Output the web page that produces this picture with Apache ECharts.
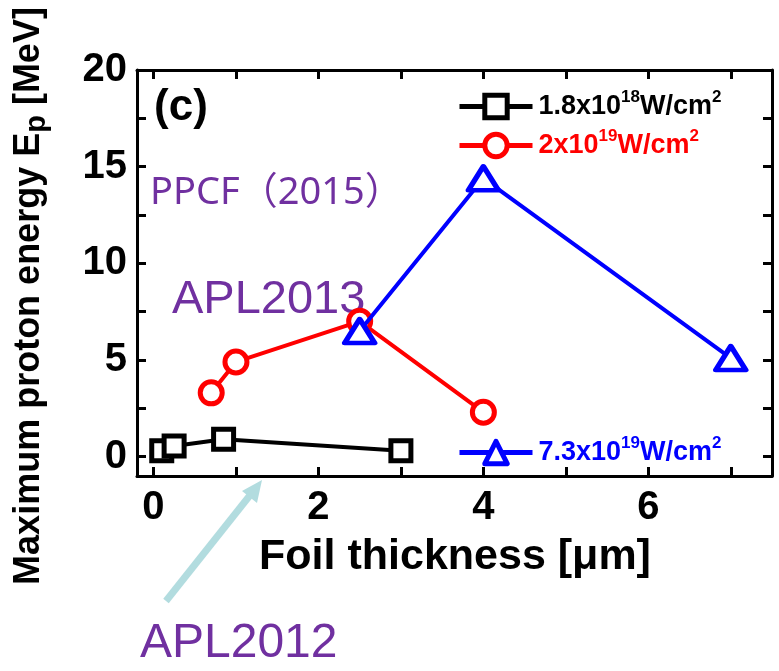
<!DOCTYPE html>
<html>
<head>
<meta charset="utf-8">
<script src="https://cdn.jsdelivr.net/npm/echarts@6/dist/echarts.min.js"></script>
<style>
html,body{margin:0;padding:0;background:#fff;}
#chart{width:779px;height:671px;}
</style>
</head>
<body>
<div id="chart"></div>
<script>
// ---- data ----
const seriesNames = ['1.8x10^18W/cm^2', '2x10^19W/cm^2', '7.3x10^19W/cm^2'];
const thickness18 = [0.1, 0.25, 0.85, 3.0];
const energy18 = [0.3, 0.55, 0.9, 0.3];
const thickness2e19 = [0.7, 1.0, 2.5, 4.0];
const energy2e19 = [3.3, 4.9, 7.0, 2.3];
const thickness73e19 = [2.5, 4.0, 7.0];
const energy73e19 = [6.5, 14.4, 5.1];
const xTickLabels = [0, 2, 4, 6];
const xTickMarks = [0, 1, 2, 3, 4, 5, 6, 7];
const yTickLabels = [0, 5, 10, 15, 20];
const yTickMarks = [0, 2.5, 5, 7.5, 10, 12.5, 15, 17.5];

const pair = (xs, ys) => xs.map((x, i) => [x, ys[i]]);
const FONT = '"Liberation Sans", Arial, Helvetica, sans-serif';
const PURPLE = '#7030A0';

const chart = echarts.init(document.getElementById('chart'));

function legendRich(color) {
  return {
    a: {fontFamily: FONT, fontWeight: 'bold', fontSize: 27, color: color, lineHeight: 30, padding: [0, 0, 0, 1]},
    b: {fontFamily: FONT, fontWeight: 'bold', fontSize: 27, color: color, lineHeight: 30},
    s: {fontFamily: FONT, fontWeight: 'bold', fontSize: 17, color: color, lineHeight: 17, padding: [0, 0, 18, 0]}
  };
}
function legendFmt(name) {
  const m = name.match(/^(.*x10)\^(\d+)(W\/cm)\^(\d)$/);
  return '{a|' + m[1] + '}{s|' + m[2] + '}{b|' + m[3] + '}{s|' + m[4] + '}';
}
function makeLegend(name, color, top) {
  return {
    data: [name],
    left: 452,
    top: top,
    itemWidth: 73,
    itemHeight: 28,
    formatter: legendFmt,
    textStyle: {rich: legendRich(color)},
    lineStyle: {width: 5},
    itemStyle: {borderWidth: 5},
    selectedMode: false
  };
}

const tickStyle = {show: true, inside: true, length: 9, lineStyle: {color: '#000', width: 3}};
const lineStyleAx = {show: true, onZero: false, lineStyle: {color: '#000', width: 3}};

const option = {
  animation: false,
  backgroundColor: '#fff',
  grid: {left: 137, right: 7, top: 70, bottom: 195, containLabel: false},
  legend: [
    makeLegend(seriesNames[0], '#000', 84),
    makeLegend(seriesNames[1], '#ff0000', 123),
    makeLegend(seriesNames[2], '#0000ff', 430)
  ],
  xAxis: [
    {
      type: 'value', min: -0.2, max: 7.5, position: 'bottom',
      axisLine: lineStyleAx,
      axisTick: Object.assign({customValues: xTickMarks}, tickStyle),
      axisLabel: {customValues: xTickLabels, margin: 12, fontFamily: FONT, fontWeight: 'bold', fontSize: 40, color: '#000'},
      splitLine: {show: false}
    },
    {
      type: 'value', min: -0.2, max: 7.5, position: 'top',
      axisLine: lineStyleAx,
      axisTick: Object.assign({customValues: xTickMarks}, tickStyle),
      axisLabel: {show: false},
      splitLine: {show: false}
    }
  ],
  yAxis: [
    {
      type: 'value', min: -1, max: 20, position: 'left',
      axisLine: lineStyleAx,
      axisTick: Object.assign({customValues: yTickMarks}, tickStyle),
      axisLabel: {customValues: yTickLabels, margin: 10, fontFamily: FONT, fontWeight: 'bold', fontSize: 40, color: '#000'},
      splitLine: {show: false}
    },
    {
      type: 'value', min: -1, max: 20, position: 'right',
      axisLine: lineStyleAx,
      axisTick: Object.assign({customValues: yTickMarks}, tickStyle),
      axisLabel: {show: false},
      splitLine: {show: false}
    }
  ],
  series: [
    {
      name: seriesNames[0], type: 'line', data: pair(thickness18, energy18),
      symbol: 'rect', symbolSize: 20,
      lineStyle: {color: '#000', width: 4},
      itemStyle: {color: '#fff', borderColor: '#000', borderWidth: 5},
      z: 3
    },
    {
      name: seriesNames[1], type: 'line', data: pair(thickness2e19, energy2e19),
      symbol: 'circle', symbolSize: 22,
      lineStyle: {color: '#ff0000', width: 4},
      itemStyle: {color: '#fff', borderColor: '#ff0000', borderWidth: 5},
      z: 3
    },
    {
      name: seriesNames[2], type: 'line', data: pair(thickness73e19, energy73e19),
      symbol: 'triangle', symbolSize: [30, 24],
      lineStyle: {color: '#0000ff', width: 4},
      itemStyle: {color: '#fff', borderColor: '#0000ff', borderWidth: 5, borderJoin: 'round'},
      z: 4
    }
  ],
  graphic: [
    {
      type: 'text', x: 29, y: 296, rotation: Math.PI / 2,
      style: {
        text: '{a|Maximum proton energy E}{p|p}{a| [MeV]}',
        align: 'center', verticalAlign: 'middle',
        rich: {
          a: {fontFamily: FONT, fontWeight: 'bold', fontSize: 36, fill: '#000', lineHeight: 40},
          p: {fontFamily: FONT, fontWeight: 'bold', fontSize: 29, fill: '#000', lineHeight: 29, padding: [16, 0, 0, 0]}
        }
      }
    },
    {
      type: 'text', x: 455, y: 557,
      style: {text: 'Foil thickness [\u03bcm]', align: 'center', verticalAlign: 'middle',
        font: 'bold 43px ' + FONT, fill: '#000'}
    },
    {
      type: 'text', x: 181, y: 108,
      style: {text: '(c)', align: 'center', verticalAlign: 'middle', font: 'bold 44px ' + FONT, fill: '#000'}
    },
    {
      type: 'text', x: 150, y: 193,
      style: {text: 'PPCF\uff082015\uff09', align: 'left', verticalAlign: 'middle',
        font: '38px "Noto Sans", "Noto Sans CJK SC", sans-serif', fill: PURPLE}
    },
    {
      type: 'text', x: 172, y: 300,
      style: {text: 'APL2013', align: 'left', verticalAlign: 'middle', font: '47px ' + FONT, fill: PURPLE}
    },
    {
      type: 'text', x: 140, y: 644,
      style: {text: 'APL2012', align: 'left', verticalAlign: 'middle', font: '48px ' + FONT, fill: PURPLE}
    },
    {
      type: 'line', shape: {x1: 166, y1: 601, x2: 251, y2: 494},
      style: {stroke: '#b2dcdf', lineWidth: 7}
    },
    {
      type: 'polygon', shape: {points: [[262, 480], [257, 503], [242, 491]]},
      style: {fill: '#b2dcdf'}
    }
  ]
};
chart.setOption(option);
</script>
</body>
</html>
